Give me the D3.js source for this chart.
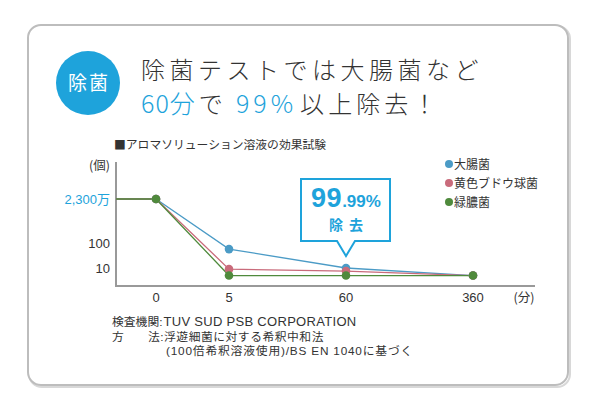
<!DOCTYPE html>
<html>
<head>
<meta charset="utf-8">
<script src="https://cdn.jsdelivr.net/npm/d3@7"></script>
<style>
  html, body { margin: 0; padding: 0; background: #fff; }
  svg { display: block; font-family: "Liberation Sans", "Noto Sans CJK JP", sans-serif; }
</style>
</head>
<body>
<svg id="viz" width="600" height="400"></svg>
<script>
// time points (minutes) and bacteria counts
const times = [0, 5, 60, 360];
const timeLabels = ["0", "5", "60", "360"];
const ecoli = [23000000, 57, 10, 5];        // 大腸菌
const staph = [23000000, 9, 7.5, 5];        // 黄色ブドウ球菌
const pseudo = [23000000, 5, 5, 5];         // 緑膿菌
const seriesNames = ["大腸菌", "黄色ブドウ球菌", "緑膿菌"];
const seriesColors = ["#4b9bc6", "#c96b7b", "#4f8a3c"];
const yTicks = [10, 100, 23000000];
const yTickLabels = ["10", "100", "2,300万"];

const BLUE = "#1ea3db";
const DARK = "#333";
const CJK = "'Noto Sans CJK JP', sans-serif";

const svg = d3.select("#viz");

// card frame
svg.append("rect")
  .attr("x", 29).attr("y", 26).attr("width", 541).attr("height", 361)
  .attr("rx", 13).attr("fill", "none").attr("stroke", "#d8d8d8").attr("stroke-width", 2);
svg.append("rect")
  .attr("x", 28).attr("y", 25).attr("width", 540).attr("height", 360)
  .attr("rx", 13).attr("fill", "#fff").attr("stroke", "#bdbdbd").attr("stroke-width", 2);

// badge
svg.append("circle").attr("cx", 88).attr("cy", 83).attr("r", 32).attr("fill", BLUE);
svg.append("text")
  .attr("x", 89).attr("y", 90).attr("text-anchor", "middle")
  .attr("fill", "#fff").attr("font-family", CJK).attr("font-size", 19).attr("letter-spacing", 2)
  .text("除菌");

// headline
const head = svg.append("g").attr("font-family", CJK).attr("font-weight", 300)
  .attr("font-size", 24).attr("letter-spacing", 4.5);
head.append("text").attr("x", 141).attr("y", 79).attr("fill", DARK).text("除菌テストでは大腸菌など");
const l2 = head.append("text").attr("x", 141).attr("y", 113).attr("fill", DARK).attr("letter-spacing", 4.1);
l2.append("tspan").attr("fill", BLUE).attr("font-size", 25).attr("letter-spacing", 1).text("60分");
l2.append("tspan").attr("dx", 3).text("で");
l2.append("tspan").attr("dx", 9).attr("fill", BLUE).attr("font-size", 25).attr("letter-spacing", 4).text("99%");
l2.append("tspan").attr("dx", 3).text("以上除去！");

// chart subtitle
svg.append("text")
  .attr("x", 114).attr("y", 149).attr("font-family", CJK).attr("font-size", 11.8).attr("fill", DARK)
  .text("■アロマソリューション溶液の効果試験");

// scales
const x = d3.scaleLinear().domain(times).range([156, 229, 346, 473]);
const y = d3.scaleLog().domain([1, 10, 100, 23000000]).range([293, 268, 243, 199]);
const axisX0 = 116, axisY0 = 286, axisTop = 162, axisRight = 535;

// axes lines
svg.append("line").attr("x1", axisX0).attr("x2", axisX0).attr("y1", axisTop).attr("y2", axisY0)
  .attr("stroke", "#999").attr("stroke-width", 2);
svg.append("line").attr("x1", axisX0 - 1).attr("x2", axisRight).attr("y1", axisY0).attr("y2", axisY0)
  .attr("stroke", "#999").attr("stroke-width", 2);

// y tick labels
svg.append("g").selectAll("text")
  .data(yTicks).enter().append("text")
  .attr("x", 110).attr("y", (d) => y(d) + 4.5)
  .attr("text-anchor", "end").attr("font-size", 13)
  .attr("fill", (d, i) => (i === yTicks.length - 1 ? BLUE : DARK))
  .text((d, i) => yTickLabels[i]);
svg.append("text").attr("x", 110).attr("y", 170).attr("text-anchor", "end")
  .attr("font-family", CJK).attr("font-size", 12.5).attr("fill", DARK).text("(個)");

// x tick labels
svg.append("g").selectAll("text")
  .data(times).enter().append("text")
  .attr("x", (d) => x(d)).attr("y", 302)
  .attr("text-anchor", "middle").attr("font-size", 13).attr("fill", DARK)
  .text((d, i) => timeLabels[i]);
svg.append("text").attr("x", 524).attr("y", 302).attr("text-anchor", "middle")
  .attr("font-family", CJK).attr("font-size", 12.5).attr("fill", DARK).text("(分)");

// series
const allSeries = [ecoli, staph, pseudo];
const line = d3.line().x((d) => x(d.t)).y((d) => y(d.v));

allSeries.forEach((vals, si) => {
  const pts = vals.map((v, i) => ({ t: times[i], v }));
  // lead-in segment from the y axis to the first point
  svg.append("line")
    .attr("x1", axisX0).attr("x2", x(times[0]))
    .attr("y1", y(vals[0])).attr("y2", y(vals[0]))
    .attr("stroke", seriesColors[si]).attr("stroke-width", 1.3);
  svg.append("path").datum(pts)
    .attr("d", line).attr("fill", "none")
    .attr("stroke", seriesColors[si]).attr("stroke-width", 1.3);
});
allSeries.forEach((vals, si) => {
  svg.append("g").selectAll("circle")
    .data(vals).enter().append("circle")
    .attr("cx", (d, i) => x(times[i])).attr("cy", (d) => y(d))
    .attr("r", 4.3).attr("fill", seriesColors[si]);
});

// legend
const leg = svg.append("g").selectAll("g")
  .data(seriesNames).enter().append("g")
  .attr("transform", (d, i) => `translate(449,${164 + i * 19})`);
leg.append("circle").attr("r", 4).attr("fill", (d, i) => seriesColors[i]);
leg.append("text").attr("x", 5).attr("y", 4.5).attr("font-family", CJK)
  .attr("font-size", 12).attr("fill", DARK).text((d) => d);

// callout pointing to 60 minutes
const cx = x(60);
const bx0 = 301, bx1 = 390, by0 = 179, by1 = 241, tipY = 256;
svg.append("path")
  .attr("d", `M${bx0},${by0}H${bx1}V${by1}H${cx + 9}L${cx},${tipY}L${cx - 9},${by1}H${bx0}Z`)
  .attr("fill", "#fff").attr("stroke", BLUE).attr("stroke-width", 2);
const big = svg.append("text").attr("x", cx).attr("y", 207).attr("text-anchor", "middle")
  .attr("fill", BLUE).attr("font-weight", 700);
big.append("tspan").attr("font-size", 27).attr("letter-spacing", 0.5).text("99");
big.append("tspan").attr("font-size", 17).text(".99%");
svg.append("text").attr("x", cx).attr("y", 230).attr("text-anchor", "middle")
  .attr("fill", BLUE).attr("font-family", CJK).attr("font-size", 14).attr("font-weight", 700)
  .attr("letter-spacing", 6).attr("dx", 3)
  .text("除去");

// footnote
const foot = svg.append("g").attr("font-size", 11.8).attr("fill", DARK);
const f1 = foot.append("text").attr("x", 112).attr("y", 326);
f1.append("tspan").text("検査機関:");
f1.append("tspan").attr("dx", 1).attr("font-size", 13).attr("letter-spacing", 0.3).text("TUV SUD PSB CORPORATION");
foot.append("text").attr("x", 112).attr("y", 340.5).text("方");
foot.append("text").attr("x", 148).attr("y", 340.5).attr("letter-spacing", 0.5).text("法:浮遊細菌に対する希釈中和法");
foot.append("text").attr("x", 166).attr("y", 355).attr("letter-spacing", 0.8)
  .text("(100倍希釈溶液使用)/BS EN 1040に基づく");
</script>
</body>
</html>
